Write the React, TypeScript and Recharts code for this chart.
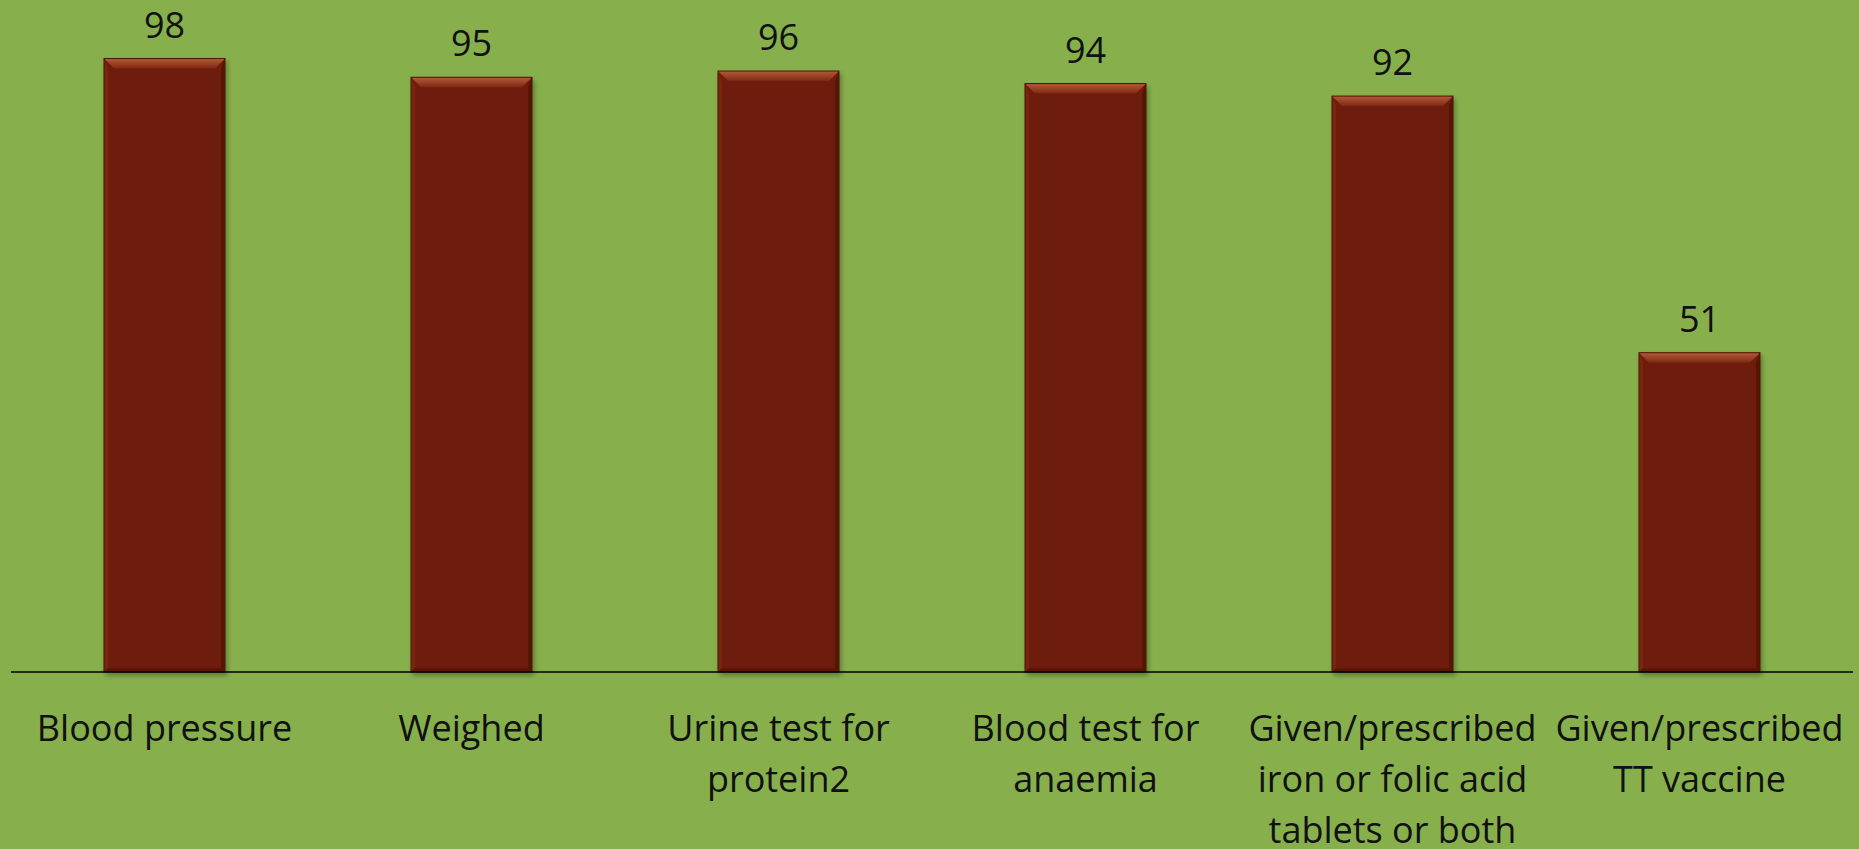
import React from 'react';
import { BarChart, Bar, XAxis, YAxis, LabelList } from 'recharts';

// Share of women receiving each antenatal check (%)
const categories = [
  'Blood pressure',
  'Weighed',
  'Urine test for protein2',
  'Blood test for anaemia',
  'Given/prescribed iron or folic acid tablets or both',
  'Given/prescribed TT vaccine',
];
const values = [98, 95, 96, 94, 92, 51];

const data = categories.map((name, i) => ({ name, value: values[i] }));

const FONT = '"Open Sans", "Noto Sans", sans-serif';
const FONT_SIZE = 36;
const BG = '#87B04D';
const BAR = '#6D1E08';

let ctx: CanvasRenderingContext2D | null = null;
const measure = (s: string) => {
  if (!ctx) ctx = document.createElement('canvas').getContext('2d');
  if (!ctx) return s.length * FONT_SIZE * 0.5;
  ctx.font = `${FONT_SIZE}px ${FONT}`;
  return ctx.measureText(s).width;
};

// greedy word wrap into the category band
const wrap = (text: string, maxWidth: number) => {
  const words = text.split(' ');
  const lines: string[] = [];
  let cur = '';
  words.forEach((w) => {
    const next = cur ? cur + ' ' + w : w;
    if (cur && measure(next) > maxWidth) {
      lines.push(cur);
      cur = w;
    } else {
      cur = next;
    }
  });
  if (cur) lines.push(cur);
  return lines;
};

const BevelBar = (props: any) => {
  const { x, y, width, height } = props;
  if (!height || height <= 0) return null;
  const b = 10; // top bevel depth
  const s = 4; // side bevel
  return (
    <g filter="url(#barShadow)">
      <rect x={x} y={y} width={width} height={height} fill={BAR} />
      <polygon
        points={`${x},${y} ${x + width},${y} ${x + width - b},${y + b} ${x + b},${y + b}`}
        fill="url(#bevelTop)"
      />
      <polygon
        points={`${x},${y} ${x + s},${y + b} ${x + s},${y + height - s} ${x},${y + height}`}
        fill="#7A2711"
      />
      <polygon
        points={`${x + width},${y} ${x + width - s},${y + b} ${x + width - s},${y + height - s} ${x + width},${y + height}`}
        fill="#561604"
      />
      <polygon
        points={`${x},${y + height} ${x + s},${y + height - s} ${x + width - s},${y + height - s} ${x + width},${y + height}`}
        fill="#5C1805"
      />
      <rect x={x} y={y} width={width} height={height} fill="none" stroke="#4A1203" strokeWidth={1} />
    </g>
  );
};

const CategoryTick = (props: any) => {
  const { x, y, payload } = props;
  const lines = wrap(String(payload.value), 305);
  return (
    <text
      x={x}
      y={y}
      textAnchor="middle"
      fill="#111"
      style={{ fontFamily: FONT, fontSize: FONT_SIZE }}
    >
      {lines.map((line, i) => (
        <tspan key={i} x={x} y={y + 69 + i * 51}>
          {line}
        </tspan>
      ))}
    </text>
  );
};

export default function App() {
  return (
    <div style={{ position: 'absolute', left: 0, top: 0, width: 1859, height: 849, background: BG }}>
      <BarChart
        width={1859}
        height={849}
        data={data}
        margin={{ top: 46, right: 6, bottom: 0, left: 11 }}
        barSize={121}
      >
        <defs>
          <linearGradient id="bevelTop" x1="0" y1="0" x2="0" y2="1">
            <stop offset="0%" stopColor="#B65A3D" />
            <stop offset="100%" stopColor="#7E2912" />
          </linearGradient>
          <filter id="barShadow" x="-10%" y="-10%" width="125%" height="125%">
            <feDropShadow dx="2" dy="3" stdDeviation="2.5" floodColor="#000" floodOpacity="0.3" />
          </filter>
        </defs>
        <YAxis hide domain={[0, 100]} />
        <XAxis
          dataKey="name"
          interval={0}
          height={177}
          tickSize={0}
          tickMargin={0}
          tickLine={false}
          axisLine={{ stroke: '#000', strokeWidth: 1.5 }}
          tick={<CategoryTick />}
        />
        <Bar dataKey="value" shape={<BevelBar />} isAnimationActive={false}>
          <LabelList
            dataKey="value"
            position="top"
            offset={21}
            fill="#111"
            style={{ fontFamily: FONT, fontSize: FONT_SIZE }}
          />
        </Bar>
      </BarChart>
    </div>
  );
}
